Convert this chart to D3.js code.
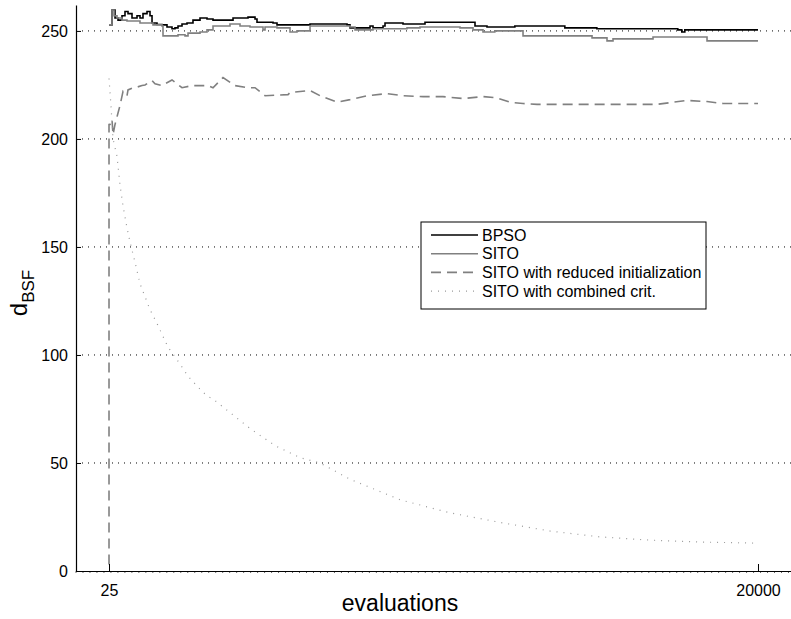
<!DOCTYPE html>
<html>
<head>
<meta charset="utf-8">
<script src="https://cdn.jsdelivr.net/npm/d3@7"></script>
<style>
  body { margin: 0; background: #fff; }
  text { font-family: "Liberation Sans", Arial, sans-serif; }
</style>
</head>
<body>
<div id="chart"></div>
<script>
// data: [evaluations, d_BSF]
var bpso = [[25,252.8],[56,252.8],[117,259.7],[210,256],[302,255],[425,257],[517,259],[610,258],[733,256],[825,256],[887,257],[979,256],[1071,258],[1195,259],[1287,257],[1349,253.7],[1502,253],[1656,252.8],[1810,251.8],[1964,251],[2056,251.4],[2149,252.3],[2272,253.2],[2426,253.7],[2610,255],[2826,256],[3041,255.5],[3226,255],[3749,255],[3842,256],[4150,256],[4303,256.4],[4519,255.5],[4580,254],[5073,253.7],[5196,252.8],[6119,252.8],[6212,253.2],[7351,252.8],[7443,251.4],[8059,252.3],[8151,251.4],[8459,252.3],[8520,253.7],[9074,253.2],[9751,254],[11229,254],[11290,252.3],[11659,251.8],[12517,252.3],[14055,251.4],[15040,251],[17532,250.5],[17655,249.5],[17748,250.5],[20000,250.5]];

var sito = [[25,252.8],[117,259.7],[179,257],[271,256],[425,255],[579,254.6],[979,253.7],[1379,252.8],[1656,252.3],[1687,247.7],[2118,247.7],[2149,248.2],[2364,247.7],[2457,249],[2826,249.5],[3041,250.5],[3226,252.3],[3749,253.2],[4057,252.3],[4365,251.8],[4765,250.5],[4827,251.8],[5196,251.4],[5596,249.5],[5811,250],[6212,252.3],[7443,251.8],[7597,250.5],[8151,251],[9197,251.4],[9597,251.8],[10828,251.4],[11229,250.5],[11536,249.5],[11900,250],[12768,247.7],[14892,246.8],[15353,245.4],[15538,246.3],[16769,247.2],[18431,245.4],[20000,245.4]];

var reduced = [[25,3],[25,206.7],[56,206.7],[117,209],[148,202],[210,206.7],[302,212],[364,215.5],[456,222],[579,220],[610,222.7],[764,223.7],[887,224],[1041,224.7],[1133,225],[1349,227],[1441,225.5],[1656,224.7],[1749,225.5],[1964,227.3],[2272,223.7],[2580,224.7],[3072,224.7],[3226,223.7],[3534,228.4],[3903,224.7],[4303,223.7],[4519,223.7],[4827,220],[5535,220.5],[5596,221.5],[6212,222.4],[6520,220],[7043,217],[7443,218.2],[7966,220],[8582,221],[9074,220],[9690,219.6],[10306,219.6],[10921,218.7],[11536,219.6],[11967,219],[12367,217],[12768,216.4],[13199,216],[13814,216],[16892,216],[17292,216.8],[17815,217.8],[18431,217.3],[18924,216.4],[20000,216.4]];

var combined = [[25,228],[87,215],[148,200],[271,192],[364,178.6],[456,169],[579,158.8],[671,152.4],[825,143],[979,133],[1133,127],[1287,121],[1502,114.6],[1656,109.6],[1841,103.6],[1995,100.4],[2210,95.8],[2457,90.2],[2734,85.6],[3041,81],[3226,79.6],[4363,66],[5140,58],[5900,52.5],[6520,50],[7440,42.5],[8980,33],[10500,27],[12055,22.5],[13600,18.5],[15130,15.8],[16670,14.3],[18210,13.4],[20000,12.9]];

var series = [
  {name: "BPSO", values: bpso, color: "#000", width: 1.6, dash: null, step: true},
  {name: "SITO", values: sito, color: "#808080", width: 1.6, dash: null, step: true},
  {name: "SITO with reduced initialization", values: reduced, color: "#808080", width: 1.6, dash: "10,6", step: false},
  {name: "SITO with combined crit.", values: combined, color: "#9a9a9a", width: 1.2, dash: "1,6", step: false}
];

var yTicks = [0, 50, 100, 150, 200, 250];
var xTicks = [25, 20000];

var width = 791, height = 619;

var svg = d3.select("#chart").append("svg")
    .attr("width", width)
    .attr("height", height);

var x = d3.scaleLinear().domain([-991, 21016]).range([76, 791]);
var y = d3.scaleLinear().domain([0, 262]).range([571, 5]);

// dotted grid lines
svg.append("g")
    .selectAll("line")
    .data(yTicks.filter(function(d) { return d > 0; }))
    .enter().append("line")
    .attr("x1", 76).attr("x2", 791)
    .attr("y1", function(d) { return y(d); })
    .attr("y2", function(d) { return y(d); })
    .attr("stroke", "#000")
    .attr("stroke-width", 1)
    .attr("stroke-dasharray", "1,5");

// curves
var line = d3.line()
    .x(function(d) { return x(d[0]); })
    .y(function(d) { return y(d[1]); });

series.forEach(function(s) {
    line.curve(s.step ? d3.curveStepAfter : d3.curveLinear);
    svg.append("path")
        .attr("d", line(s.values))
        .attr("fill", "none")
        .attr("stroke", s.color)
        .attr("stroke-width", s.width)
        .attr("stroke-dasharray", s.dash);
});

// axes
var yAxis = d3.axisLeft(y).tickValues(yTicks).tickSizeInner(-5).tickSizeOuter(0).tickPadding(8);
var gy = svg.append("g").attr("transform", "translate(76,0)").call(yAxis);

var xAxis = d3.axisBottom(x).tickValues(xTicks).tickFormat(d3.format("d"))
    .tickSizeInner(-7).tickSizeOuter(0).tickPadding(14);
var gx = svg.append("g").attr("transform", "translate(0,571)").call(xAxis);

[gy, gx].forEach(function(g) {
    g.selectAll("text").attr("font-size", 16).attr("fill", "#000")
        .attr("font-family", "'Liberation Sans', Arial, sans-serif");
    g.selectAll("line").attr("stroke", "#000");
    g.select(".domain").attr("stroke", "#000").attr("stroke-width", 1.2);
});

// minor ticks along the x axis
svg.append("g")
    .selectAll("line")
    .data(d3.range(-991, 21016, 215))
    .enter().append("line")
    .attr("x1", function(d) { return x(d); })
    .attr("x2", function(d) { return x(d); })
    .attr("y1", 571).attr("y2", 573)
    .attr("stroke", "#000")
    .attr("stroke-width", 0.6);

// labels
svg.append("text")
    .attr("x", 400).attr("y", 611)
    .attr("text-anchor", "middle")
    .attr("font-size", 23)
    .text("evaluations");

var yl = svg.append("text")
    .attr("transform", "translate(27,293) rotate(-90)")
    .attr("text-anchor", "middle")
    .attr("font-size", 24);
yl.append("tspan").text("d");
yl.append("tspan").attr("font-size", 17).attr("dy", 7).text("BSF");

// legend
var legend = svg.append("g").attr("transform", "translate(421,222)");
legend.append("rect")
    .attr("width", 285).attr("height", 87)
    .attr("fill", "#fff")
    .attr("stroke", "#000")
    .attr("stroke-width", 1);

series.forEach(function(s, i) {
    var ly = 13 + i * 18.7;
    legend.append("line")
        .attr("x1", 10).attr("x2", 57)
        .attr("y1", ly).attr("y2", ly)
        .attr("stroke", s.color)
        .attr("stroke-width", s.width)
        .attr("stroke-dasharray", s.dash);
    legend.append("text")
        .attr("x", 61).attr("y", ly + 5.5)
        .attr("font-size", 16)
        .text(s.name);
});
</script>
</body>
</html>
